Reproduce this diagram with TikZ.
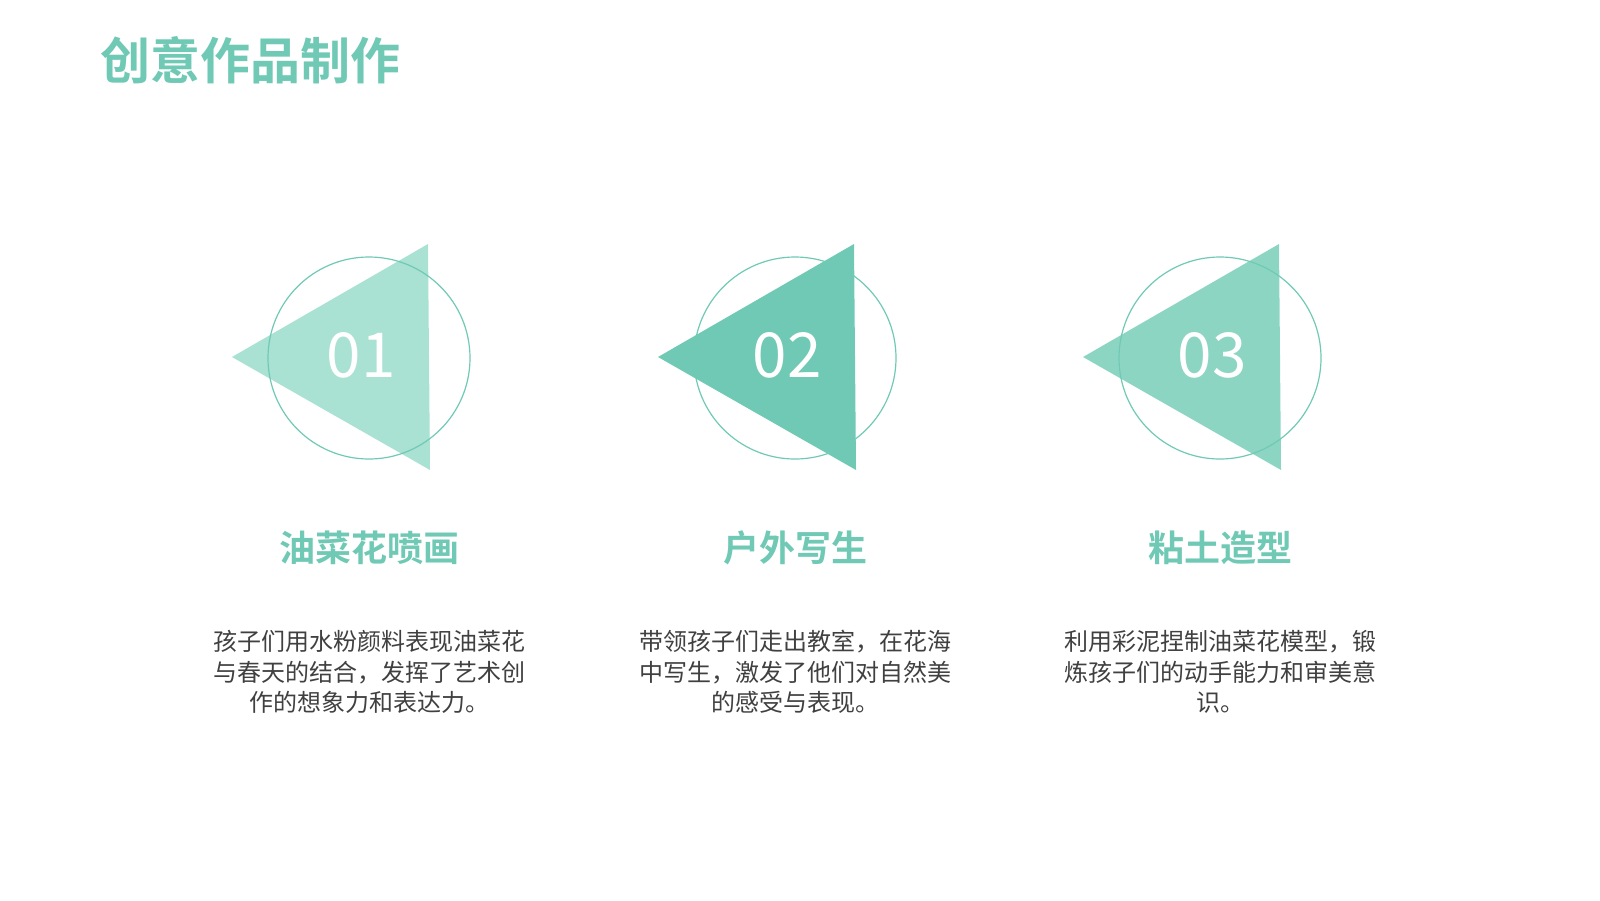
\documentclass[tikz,border=0pt]{standalone}
\usepackage{fontspec}
\setmainfont{Noto Sans CJK SC}
\newfontfamily\cjkb[BoldFont=*]{Noto Sans CJK SC Bold}
\definecolor{mint}{HTML}{6FC9B4}
\definecolor{tri1}{HTML}{A9E1D3}
\definecolor{tri2}{HTML}{6FC9B4}
\definecolor{tri3}{HTML}{8DD5C3}
\definecolor{body}{HTML}{404040}
\begin{document}
\begin{tikzpicture}[x=1pt,y=-1pt,
  ring/.style={draw=mint,line width=1.2pt},
  num/.style={text=white,font=\fontsize{62}{62}\selectfont},
  head/.style={text=mint,font=\cjkb\fontsize{36}{40}\selectfont},
  desc/.style={text=body,align=center,font=\fontsize{24}{30.5}\selectfont,anchor=north}]
\useasboundingbox (0,0) rectangle (1600,900);
\node[anchor=west,text=mint,font=\cjkb\fontsize{50}{56}\selectfont] (title) at (97,60) {创意作品制作};
\foreach \i/\cx/\c/\n/\h/\d in {
 1/369/tri1/01/油菜花喷画/{孩子们用水粉颜料表现油菜花\\与春天的结合，发挥了艺术创\\作的想象力和表达力。},
 2/795/tri2/02/户外写生/{带领孩子们走出教室，在花海\\中写生，激发了他们对自然美\\的感受与表现。},
 3/1220/tri3/03/粘土造型/{利用彩泥捏制油菜花模型，锻\\炼孩子们的动手能力和审美意\\识。}}{
  \fill[\c] (\cx-137,357) -- (\cx+59,244) -- (\cx+61,470) -- cycle;
  \draw[ring] (\cx,358) circle (101);
  \node[num] (n\i) at (\cx-8,355) {\n};
  \node[head] (h\i) at (\cx,548) {\h};
  \node[desc] (d\i) at (\cx,627) {\d};
}
\end{tikzpicture}
\end{document}
